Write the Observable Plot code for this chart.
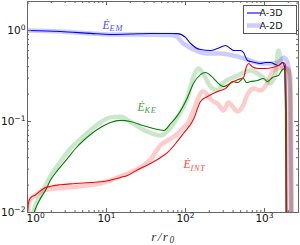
<!DOCTYPE html>
<html>
<head>
<meta charset="utf-8">
<script src="https://cdn.jsdelivr.net/npm/d3@7"></script>
<script src="https://cdn.jsdelivr.net/npm/@observablehq/plot@0.6"></script>
<style>
  html, body { margin: 0; padding: 0; background: #fff; }
  #chart svg { display: block; }
</style>
</head>
<body>
<div id="chart"></div>
<script>
// ---- data: [r/r0, value] ----
const emA3D = [[1,1.0],[2.6,0.975],[6.3,0.93],[11,0.905],[20,0.915],[36,0.927],[65,0.927],[79,0.925],[100,0.84],[116,0.72],[155,0.618],[207,0.603],[254,0.634],[321,0.684],[371,0.634],[405,0.603],[497,0.603],[542,0.573],[609,0.468],[665,0.456],[769,0.445],[890,0.434],[1030,0.445],[1190,0.445],[1380,0.423],[1500,0.412],[1690,0.445],[1790,0.40],[1840,0.2],[1880,0.05],[1900,0.001]];
const emA2D = [[1,1.0],[2.6,0.975],[6.3,0.93],[11,0.904],[20,0.904],[36,0.90],[60,0.89],[75,0.87],[94,0.72],[126,0.618],[190,0.559],[277,0.559],[405,0.531],[609,0.48],[890,0.434],[1300,0.434],[1600,0.468],[1740,0.505],[1900,0.47],[2010,0.40],[2100,0.2],[2200,0.001]];
const keA3D = [[1.17,0.009],[1.26,0.011],[1.46,0.0143],[1.69,0.0175],[1.95,0.0226],[2.4,0.029],[3.21,0.0393],[4.05,0.0505],[5.11,0.0618],[6.27,0.072],[8.4,0.0859],[11.2,0.0975],[15,0.103],[20,0.100],[29,0.0904],[39,0.0839],[53,0.0796],[65,0.0952],[79,0.116],[106,0.184],[126,0.262],[155,0.328],[179,0.345],[220,0.305],[254,0.268],[303,0.242],[350,0.255],[394,0.275],[455,0.268],[542,0.297],[590,0.268],[665,0.275],[815,0.282],[971,0.297],[1090,0.275],[1260,0.305],[1500,0.32],[1690,0.373],[1790,0.38],[1840,0.13],[1900,0.001]];
const keA2D = [[1.15,0.009],[1.26,0.012],[1.46,0.0154],[1.95,0.025],[2.62,0.0364],[3.5,0.0505],[5.11,0.0685],[8.4,0.0975],[11.2,0.111],[15,0.113],[20,0.100],[29,0.0816],[48,0.0702],[65,0.0859],[79,0.111],[106,0.184],[126,0.312],[146,0.382],[169,0.328],[207,0.242],[254,0.219],[294,0.262],[371,0.297],[455,0.32],[542,0.345],[665,0.363],[815,0.337],[971,0.305],[1190,0.262],[1380,0.345],[1500,0.603],[1690,0.392],[2010,0.363],[2130,0.17],[2200,0.001]];
const intA3D = [[1.0,0.0095],[1.03,0.0128],[1.09,0.0145],[1.26,0.0156],[1.6,0.0184],[1.95,0.0194],[2.62,0.0202],[4.05,0.0208],[6.27,0.0214],[9.16,0.0219],[11.2,0.0226],[15,0.0243],[18.4,0.0255],[23,0.0285],[36,0.0346],[48,0.040],[59,0.0456],[75,0.0573],[94,0.0738],[126,0.105],[155,0.166],[190,0.188],[254,0.214],[321,0.231],[371,0.262],[469,0.29],[542,0.305],[590,0.40],[630,0.434],[700,0.40],[840,0.382],[1030,0.382],[1260,0.392],[1500,0.412],[1740,0.445],[1840,0.42],[1900,0.10],[1950,0.001]];
const intA2D = [[1.02,0.0095],[1.03,0.0129],[1.26,0.0154],[1.6,0.0175],[2.26,0.0184],[3.21,0.0188],[5.42,0.0198],[8.4,0.0208],[11.2,0.0226],[15,0.025],[18.4,0.0268],[26.9,0.0313],[36,0.0383],[48,0.0546],[59,0.0618],[75,0.0702],[94,0.0859],[106,0.0952],[126,0.132],[146,0.184],[164,0.214],[179,0.208],[195,0.188],[226,0.166],[254,0.158],[303,0.132],[350,0.162],[394,0.146],[455,0.129],[527,0.146],[609,0.198],[726,0.231],[890,0.219],[1090,0.268],[1260,0.354],[1460,0.382],[1740,0.392],[1950,0.382],[2130,0.32],[2190,0.048],[2260,0.001]];

const xMajor = [1, 10, 100, 1000];
const xMinor = [2,3,4,5,6,7,8,9,20,30,40,50,60,70,80,90,200,300,400,500,600,700,800,900,2000];
const yMajor = [0.01, 0.1, 1];
const yMinor = [0.02,0.03,0.04,0.05,0.06,0.07,0.08,0.09,0.2,0.3,0.4,0.5,0.6,0.7,0.8,0.9,2];
const xTickLabels = ["10^0", "10^1", "10^2", "10^3"];
const yTickLabels = ["10^\u22122", "10^\u22121", "10^0"];
const xLabel = "r/r_0";
const curveLabels = [
  {text: "\u0116_EM", x: 8.9, y: 1.05, color: "#4d4dff"},
  {text: "\u0116_KE", x: 24.7, y: 0.132, color: "#3f9f3f"},
  {text: "\u0116_INT", x: 94, y: 0.0305, color: "#ff4545"}
];
const legendLabels = ["A-3D", "A-2D"];

// ---- layout ----
const W = 300, H = 245;
const mL = 27, mR = 2, mT = 1, mB = 33;
const plotH = H - mT - mB;
const plotW = W - mL - mR;
const frameColor = "#666";
const tickFont = "DejaVu Sans, sans-serif";
const mathFont = "Liberation Serif, DejaVu Serif, serif";

const lineOpts = (color, light) => ({
  x: d => d[0], y: d => d[1], curve: "monotone-x",
  stroke: color,
  strokeWidth: light ? 4.5 : 1.1,
  strokeOpacity: light ? 0.2 : 1,
  strokeLinejoin: "round"
});

const plot = Plot.plot({
  width: W, height: H,
  marginLeft: mL, marginRight: mR, marginTop: mT, marginBottom: mB,
  x: {type: "log", domain: [1, 2694], axis: null},
  y: {type: "log", domain: [0.01, 2.084], axis: null},
  clip: true,
  style: {background: "#fff"},
  marks: [
    Plot.line(emA2D, lineOpts("#0000ff", true)),
    Plot.line(keA2D, lineOpts("#008000", true)),
    Plot.line(intA2D, lineOpts("#ff0000", true)),
    Plot.line(emA3D, lineOpts("#0000ff", false)),
    Plot.line(keA3D, lineOpts("#008000", false)),
    Plot.line(intA3D, lineOpts("#ff0000", false)),
    // ticks (inward, all four sides)
    Plot.tickX(xMajor, {x: d => d, insetTop: plotH - 4, stroke: frameColor, clip: false}),
    Plot.tickX(xMajor, {x: d => d, insetBottom: plotH - 4, stroke: frameColor, clip: false}),
    Plot.tickX(xMinor, {x: d => d, insetTop: plotH - 2, stroke: frameColor, clip: false}),
    Plot.tickX(xMinor, {x: d => d, insetBottom: plotH - 2, stroke: frameColor, clip: false}),
    Plot.tickY(yMajor, {y: d => d, insetRight: plotW - 4, stroke: frameColor, clip: false}),
    Plot.tickY(yMajor, {y: d => d, insetLeft: plotW - 4, stroke: frameColor, clip: false}),
    Plot.tickY(yMinor, {y: d => d, insetRight: plotW - 2, stroke: frameColor, clip: false}),
    Plot.tickY(yMinor, {y: d => d, insetLeft: plotW - 2, stroke: frameColor, clip: false}),
    Plot.frame({stroke: frameColor}),
    // tick labels
    Plot.text(xMajor.slice(0, 1), {x: d => d, text: (d, i) => xTickLabels[i], frameAnchor: "bottom", lineAnchor: "top", textAnchor: "start", dy: 2, dx: -1, fontFamily: tickFont, fontSize: 10.5, fill: "#111", clip: false}),
    Plot.text(xMajor.slice(1), {x: d => d, text: (d, i) => xTickLabels[i + 1], frameAnchor: "bottom", lineAnchor: "top", dy: 2, fontFamily: tickFont, fontSize: 10.5, fill: "#111", clip: false}),
    Plot.text(yMajor, {y: d => d, text: (d, i) => yTickLabels[i], frameAnchor: "left", textAnchor: "end", dx: -2, fontFamily: tickFont, fontSize: 10.5, fill: "#111", clip: false}),
    // axis label
    Plot.text([xLabel], {text: d => d, frameAnchor: "bottom", lineAnchor: "bottom", dy: 28, fontFamily: mathFont, fontStyle: "italic", fontSize: 13, fill: "#333", clip: false}),
    // curve labels
    Plot.text(curveLabels, {x: "x", y: "y", text: "text", fill: "color", textAnchor: "start", lineAnchor: "bottom", fontFamily: mathFont, fontStyle: "italic", fontSize: 11.5, clip: false})
  ]
});

// superscript / subscript rendering of "^" and "_"
const NS = "http://www.w3.org/2000/svg";
plot.querySelectorAll("text").forEach(t => {
  const s = t.textContent;
  const m = s.match(/^([^_^]*)([_^])(.*)$/);
  if (!m) return;
  t.textContent = "";
  const a = document.createElementNS(NS, "tspan");
  a.textContent = m[1];
  if (m[1].includes("/")) a.setAttribute("letter-spacing", "1.5");
  t.appendChild(a);
  const b = document.createElementNS(NS, "tspan");
  b.textContent = m[3];
  b.setAttribute("font-size", "72%");
  b.setAttribute("dy", m[2] === "^" ? "-0.55em" : "0.3em");
  if (m[2] === "_") b.setAttribute("letter-spacing", "0.8");
  t.appendChild(b);
});

// legend (upper right, inside the axes)
const svg = d3.select(plot);
const lg = svg.append("g");
lg.append("rect").attr("x", 243.5).attr("y", 5.5).attr("width", 53).attr("height", 28)
  .attr("fill", "#fff").attr("stroke", "#555").attr("stroke-width", 1);
const legendStyles = [
  {color: "#0000ff", width: 1.1, opacity: 1},
  {color: "#0000ff", width: 4.5, opacity: 0.2}
];
legendLabels.forEach((label, i) => {
  const cy = 13 + i * 12.5;
  lg.append("line").attr("x1", 247).attr("x2", 261).attr("y1", cy).attr("y2", cy)
    .attr("stroke", legendStyles[i].color).attr("stroke-width", legendStyles[i].width)
    .attr("stroke-opacity", legendStyles[i].opacity);
  lg.append("text").attr("x", 271).attr("y", cy).attr("dy", "0.35em")
    .attr("font-family", tickFont).attr("font-size", 9.5).attr("fill", "#111")
    .text(label);
});

document.getElementById("chart").appendChild(plot);
</script>
</body>
</html>
